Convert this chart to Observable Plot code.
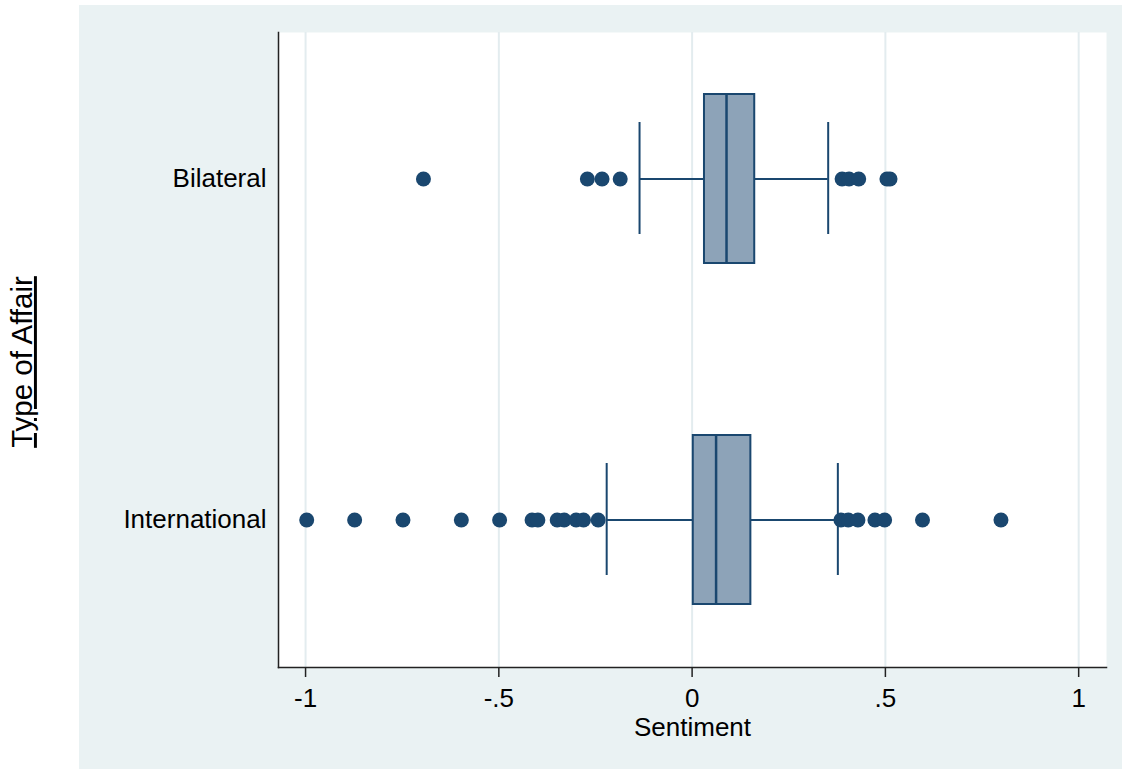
<!DOCTYPE html>
<html>
<head>
<meta charset="utf-8">
<script src="https://cdn.jsdelivr.net/npm/d3@7"></script>
<script src="https://cdn.jsdelivr.net/npm/@observablehq/plot@0.6"></script>
<style>
  html, body { margin: 0; padding: 0; background: #ffffff; }
  #wrap { position: relative; width: 1122px; height: 769px; overflow: hidden; }
  #panel { position: absolute; left: 79px; top: 5px; right: 0; bottom: 0; background: #EAF2F3; }
  #chart { position: absolute; left: 0; top: 0; }
</style>
</head>
<body>
<div id="wrap"><div id="panel"></div><div id="chart"></div></div>
<script>
// ---- data ----
const categories   = ["Bilateral", "International"];
const q1           = [0.032, 0.003];
const median       = [0.089, 0.062];
const q3           = [0.162, 0.152];
const whiskerLow   = [-0.136, -0.221];
const whiskerHigh  = [0.352, 0.377];
const bilateralOutliers = [-0.695, -0.271, -0.233, -0.186, 0.388, 0.406, 0.431, 0.504, 0.512];
const internationalOutliers = [-0.997, -0.873, -0.748, -0.597, -0.498, -0.414, -0.399, -0.349, -0.331, -0.300, -0.281, -0.243,
                               0.385, 0.404, 0.429, 0.473, 0.498, 0.596, 0.799];
const xTicks = [-1, -0.5, 0, 0.5, 1];
const xTickLabels = ["-1", "-.5", "0", ".5", "1"];

// ---- tables built from the arrays ----
const boxes = categories.map((c, i) => ({cat: c, q1: q1[i], med: median[i], q3: q3[i], lo: whiskerLow[i], hi: whiskerHigh[i]}));
const outliers = [
  ...bilateralOutliers.map(v => ({cat: categories[0], v})),
  ...internationalOutliers.map(v => ({cat: categories[1], v}))
];

const navy = "#1A476F";
const boxFill = "#8DA3B8";

const plot = Plot.plot({
  width: 1122,
  height: 769,
  marginLeft: 278,
  marginRight: 16,
  marginTop: 32,
  marginBottom: 102,
  style: {background: "transparent", fontSize: "26px", fontFamily: "'Liberation Sans', Arial, sans-serif", color: "#000"},
  x: {domain: [-1.07, 1.072]},
  y: {type: "band", domain: categories, paddingInner: 0.503, paddingOuter: 0.18},
  marks: [
    Plot.frame({fill: "white", stroke: "none"}),
    Plot.gridX({ticks: xTicks, stroke: "#E3ECEF", strokeOpacity: 1, strokeWidth: 2}),
    Plot.ruleY(boxes, {y: "cat", x1: "lo", x2: "q1", stroke: navy, strokeWidth: 2}),
    Plot.ruleY(boxes, {y: "cat", x1: "q3", x2: "hi", stroke: navy, strokeWidth: 2}),
    Plot.tickX(boxes, {y: "cat", x: "lo", stroke: navy, strokeWidth: 2, insetTop: 28, insetBottom: 29}),
    Plot.tickX(boxes, {y: "cat", x: "hi", stroke: navy, strokeWidth: 2, insetTop: 28, insetBottom: 29}),
    Plot.barX(boxes, {y: "cat", x1: "q1", x2: "q3", fill: boxFill, stroke: navy, strokeWidth: 2}),
    Plot.tickX(boxes, {y: "cat", x: "med", stroke: navy, strokeWidth: 2.5}),
    Plot.dot(outliers, {y: "cat", x: "v", r: 7.5, fill: navy, stroke: "none"}),
    Plot.frame({anchor: "left", stroke: "#222", strokeWidth: 1.5}),
    Plot.frame({anchor: "bottom", stroke: "#222", strokeWidth: 1.5}),
    Plot.axisX({ticks: xTicks, tickFormat: d => xTickLabels[xTicks.indexOf(d)], tickSize: 10, tickPadding: 11, stroke: "#222", strokeWidth: 1.5, label: null}),
    Plot.axisY({tickSize: 0, tickPadding: 12, label: null}),
    Plot.text(["Sentiment"], {frameAnchor: "bottom", lineAnchor: "bottom", dy: 68, fontSize: 26, fill: "#000"}),
    Plot.text(["Type of Affair"], {frameAnchor: "left", textAnchor: "middle", dx: -256, dy: 12, rotate: -90, fontSize: 29.5, fill: "#000"})
  ]
});

d3.select(plot).selectAll("text").filter(function() { return this.textContent === "Type of Affair"; })
  .attr("text-decoration", "underline")
  .style("text-decoration-skip-ink", "none");

document.getElementById("chart").appendChild(plot);
</script>
</body>
</html>
